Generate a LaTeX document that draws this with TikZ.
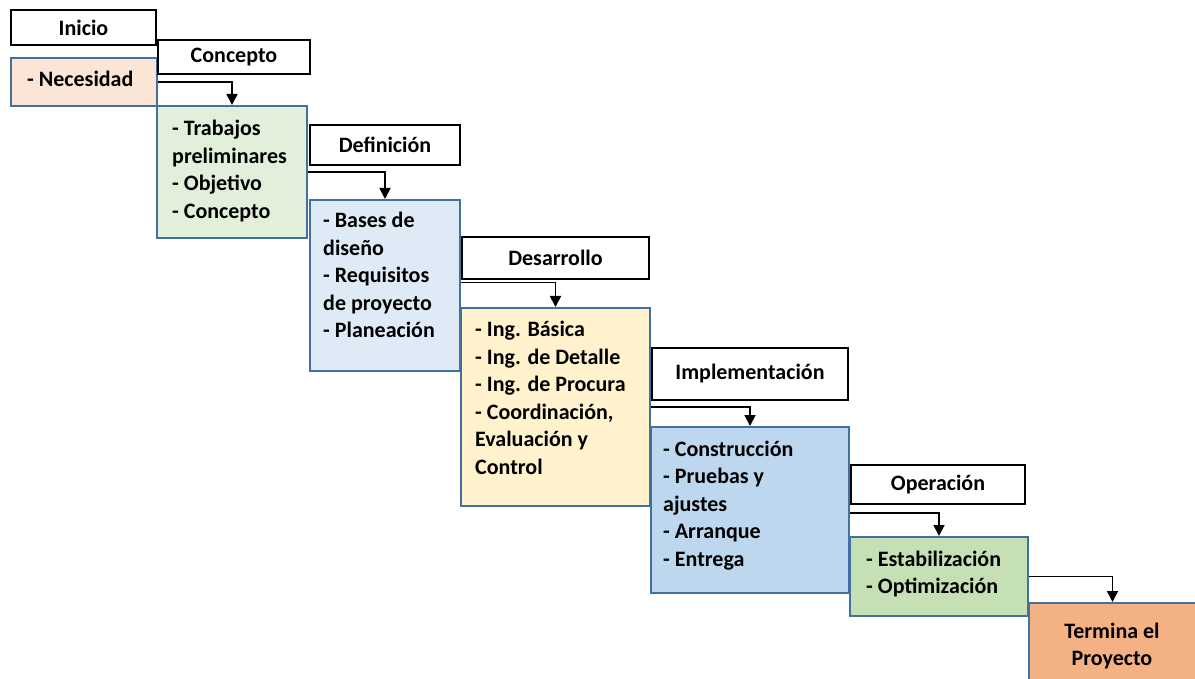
\documentclass[tikz,border=0pt]{standalone}
\usepackage{fontspec}
\setmainfont{Carlito}
\usetikzlibrary{arrows.meta,calc}
\definecolor{bord}{HTML}{41719C}
\definecolor{cA}{HTML}{FBE5D6}
\definecolor{cB}{HTML}{E2EFDA}
\definecolor{cC}{HTML}{DEEBF7}
\definecolor{cD}{HTML}{FFF2CC}
\definecolor{cE}{HTML}{BDD7EE}
\definecolor{cF}{HTML}{C5E0B4}
\definecolor{cG}{HTML}{F4B183}
\newcommand{\lft}[1]{\begin{tabular}[t]{@{}l@{}}#1\end{tabular}}
\newcommand{\ctr}[1]{\begin{tabular}[t]{@{}c@{}}#1\end{tabular}}
\tikzset{
  x=1pt,y=-1pt,
  every node/.style={font=\fontsize{22}{27.5}\selectfont\bfseries},
  lbl/.style={draw=black,line width=2.7pt,fill=white,inner sep=0pt},
  box/.style={draw=bord,line width=2pt,inner sep=0pt},
  txt/.style={anchor=base west,inner sep=0pt},
  arr/.style={draw=black,line width=1.8pt,-{Triangle[width=11pt,length=11pt]}},
}
\begin{document}
\begin{tikzpicture}
\useasboundingbox (0,0) rectangle (1195,679);
\clip (0,0) rectangle (1195,679);
\fill[white] (0,0) rectangle (1195,679);
% content boxes
\node[box,fill=cA,minimum width=146pt,minimum height=48pt,anchor=north west] (b1) at (10,57) {};
\node[box,fill=cB,minimum width=150pt,minimum height=132pt,anchor=north west] (b2) at (156,105) {};
\node[box,fill=cC,minimum width=150pt,minimum height=171pt,anchor=north west] (b3) at (309,199) {};
\node[box,fill=cD,minimum width=189pt,minimum height=198pt,anchor=north west] (b4) at (460,307) {};
\node[box,fill=cE,minimum width=198pt,minimum height=166pt,anchor=north west] (b5) at (650,426) {};
\node[box,fill=cF,minimum width=178pt,minimum height=79pt,anchor=north west] (b6) at (849,536) {};
\node[box,fill=cG,minimum width=167pt,minimum height=90pt,anchor=north west] (b7) at (1028,602) {};
% texts
\node[txt] (t1) at (27,87) {\lft{- Necesidad}};
\node[txt] (t2) at (172,136) {\lft{- Trabajos\\preliminares\\- Objetivo\\- Concepto}};
\node[txt] (t3) at (323,228) {\lft{- Bases de\\dise\~no\\- Requisitos\\de proyecto\\- Planeaci\'on}};
\node[txt] (t4) at (475,337) {\lft{- Ing. B\'asica\\- Ing. de Detalle\\- Ing. de Procura\\- Coordinaci\'on,\\Evaluaci\'on y\\Control}};
\node[txt] (t5) at (663,456) {\lft{- Construcci\'on\\- Pruebas y\\ajustes\\- Arranque\\- Entrega}};
\node[txt] (t6) at (866,566) {\lft{- Estabilizaci\'on\\- Optimizaci\'on}};
\node[inner sep=0pt,anchor=base] (t7) at (1112,638) {\ctr{Termina el\\Proyecto}};
% label boxes
\node[lbl,minimum width=145pt,minimum height=35pt] (l1) at (83.5,27.5) {Inicio};
\node[lbl,minimum width=152pt,minimum height=34pt] (l2) at (234,57) {Concepto};
\node[lbl,minimum width=150pt,minimum height=40pt] (l3) at (385,145) {Definici\'on};
\node[lbl,minimum width=187pt,minimum height=42pt] (l4) at (555.5,258) {Desarrollo};
\node[lbl,minimum width=196pt,minimum height=52pt] (l5) at (750,374) {Implementaci\'on};
\node[lbl,minimum width=174pt,minimum height=39pt] (l6) at (938,484.5) {Operaci\'on};
% connectors
\draw[arr] (b1.east) -| (b2.north);
\draw[arr] (b2.east) -| (b3.north);
\draw[arr] ($(b3.east)+(0,-3)$) -| (b4.north);
\draw[arr] (b4.east) -| (b5.north);
\draw[arr] ($(b5.east)+(0,3)$) -| (b6.north);
\draw[arr] (b6.east) -| (b7.north);
\end{tikzpicture}
\end{document}
